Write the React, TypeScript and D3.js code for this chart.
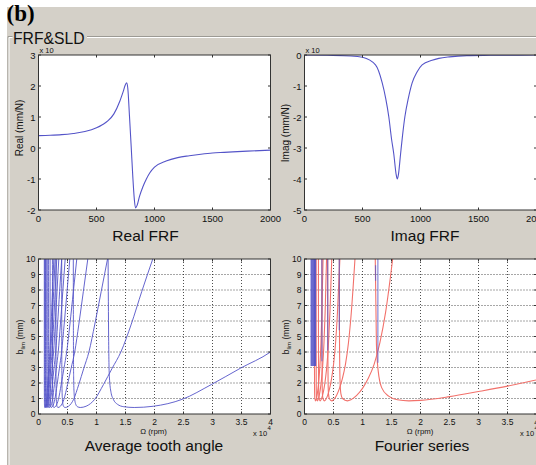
import React from 'react';
import * as d3 from 'd3';

const W = 536;
const H = 465;
const PANEL = '#d4d0c8';
const BLUE = '#5454c8';
const RED = '#f2716b';
const FONT = '"Liberation Sans", Arial, sans-serif';

// Real FRF (Hz, mm/N x 10^-?)
const realFreq = [0, 100, 200, 300, 400, 500, 550, 600, 650, 700, 730, 750, 760, 770, 784, 799, 813, 826, 836, 850, 870, 900, 930, 960, 1000, 1100, 1200, 1300, 1400, 1500, 1600, 1800, 2000];
const realVal = [0.4, 0.41, 0.43, 0.47, 0.53, 0.65, 0.75, 0.88, 1.1, 1.5, 1.82, 2.05, 2.1, 1.92, 1.05, 0.05, -0.93, -1.65, -1.93, -1.85, -1.57, -1.25, -1.0, -0.8, -0.62, -0.42, -0.31, -0.25, -0.2, -0.16, -0.14, -0.1, -0.07];

// Imag FRF
const imagFreq = [0, 200, 400, 500, 612, 670, 700, 727, 750, 770, 790, 800, 810, 828, 845, 865, 895, 928, 970, 1014, 1100, 1158, 1250, 1400, 1600, 2000];
const imagVal = [0, -0.01, -0.03, -0.075, -0.32, -0.9, -1.4, -2.0, -2.7, -3.2, -3.85, -4.0, -3.85, -3.2, -2.6, -2.0, -1.4, -0.9, -0.55, -0.32, -0.17, -0.11, -0.06, -0.02, -0.01, 0];

const frfTicksX = [0, 500, 1000, 1500, 2000];
const realTicksY = [-2, -1, 0, 1, 2, 3];
const imagTicksY = [-5, -4, -3, -2, -1, 0];

const sldTicksX = [0, 0.5, 1, 1.5, 2, 2.5, 3, 3.5, 4];
const sldTicksY = [0, 1, 2, 3, 4, 5, 6, 7, 8, 9, 10];

// Average tooth angle: spindle speed (x10^4 rpm) of each lobe at these b_lim levels (mm)
const avgB = [10, 5, 2.4, 1.4, 0.95, 0.63, 0.47, 0.42, 0.5, 0.95, 1.9, 2.95, 4.0, 5.8, 7.9, 10];
const avgLobes = [
  [1.2, 1.209, 1.222, 1.25, 1.29, 1.36, 1.47, 1.65, 1.98, 2.48, 2.98, 3.48, 4.0, 4.55, 5.15, 5.8],
  [0.6, 0.602, 0.606, 0.613, 0.624, 0.642, 0.672, 0.72, 0.82, 0.97, 1.12, 1.27, 1.42, 1.6, 1.78, 1.97],
  [0.4, 0.401, 0.403, 0.407, 0.412, 0.421, 0.436, 0.46, 0.518, 0.606, 0.694, 0.781, 0.869, 0.971, 1.081, 1.19],
  [0.3, 0.3007, 0.3018, 0.304, 0.307, 0.313, 0.322, 0.336, 0.377, 0.439, 0.5, 0.562, 0.624, 0.696, 0.773, 0.85],
  [0.24, 0.2405, 0.2413, 0.243, 0.245, 0.249, 0.255, 0.265, 0.297, 0.344, 0.391, 0.439, 0.486, 0.542, 0.601, 0.66],
  [0.2, 0.2004, 0.201, 0.202, 0.2036, 0.206, 0.211, 0.218, 0.244, 0.282, 0.321, 0.36, 0.398, 0.443, 0.492, 0.54],
  [0.171, 0.1713, 0.1718, 0.1728, 0.1742, 0.1766, 0.1806, 0.187, 0.209, 0.242, 0.274, 0.307, 0.34, 0.378, 0.419, 0.46],
  [0.15, 0.1503, 0.1507, 0.1514, 0.1526, 0.1546, 0.1578, 0.163, 0.182, 0.21, 0.239, 0.267, 0.296, 0.329, 0.364, 0.4],
  [0.133, 0.1332, 0.1336, 0.1343, 0.1354, 0.1372, 0.1402, 0.145, 0.161, 0.186, 0.211, 0.235, 0.26, 0.289, 0.319, 0.35],
  [0.12, 0.1202, 0.1205, 0.1211, 0.122, 0.1235, 0.126, 0.13, 0.145, 0.167, 0.189, 0.211, 0.234, 0.26, 0.287, 0.315],
  [0.109, 0.1092, 0.1095, 0.11, 0.1108, 0.1122, 0.1144, 0.118, 0.131, 0.152, 0.172, 0.192, 0.212, 0.236, 0.261, 0.286],
  [0.1, 0.1002, 0.1004, 0.1009, 0.1016, 0.1028, 0.1048, 0.108, 0.12, 0.139, 0.158, 0.177, 0.196, 0.218, 0.241, 0.264],
];

// Fourier series: lobe 0 on its own, others at shared b_lim levels
const four0X = [1.22, 1.24, 1.27, 1.33, 1.45, 1.6, 1.8, 2.0, 2.5, 3.0, 3.5, 4.0, 4.3];
const four0B = [10, 4.5, 2.8, 1.7, 1.15, 0.92, 0.85, 0.88, 1.12, 1.45, 1.8, 2.2, 2.45];
const fourB = [10, 4.5, 2.0, 1.3, 1.0, 0.85, 0.92, 1.2, 1.65, 2.3, 3.2, 4.6, 6.6, 10];
const fourLobes = [
  [0.6, 0.604, 0.614, 0.628, 0.656, 0.74, 0.8, 0.9, 1.0, 1.1, 1.2, 1.3, 1.4, 1.52],
  [0.4, 0.402, 0.407, 0.414, 0.428, 0.47, 0.501, 0.552, 0.603, 0.654, 0.706, 0.758, 0.808, 0.87],
  [0.3, 0.3014, 0.3045, 0.309, 0.318, 0.345, 0.365, 0.399, 0.433, 0.467, 0.501, 0.536, 0.569, 0.61],
  [0.24, 0.241, 0.243, 0.246, 0.252, 0.27, 0.285, 0.311, 0.337, 0.362, 0.388, 0.414, 0.439, 0.47],
  [0.2, 0.2007, 0.2022, 0.2044, 0.2088, 0.222, 0.234, 0.254, 0.275, 0.295, 0.315, 0.336, 0.356, 0.38],
  [0.171, 0.1716, 0.173, 0.175, 0.179, 0.19, 0.2, 0.217, 0.233, 0.25, 0.267, 0.284, 0.3, 0.32],
];
// blue vertical solutions in the Fourier plot
const blueX = [0.115, 0.13, 0.145, 0.16, 0.175, 0.19, 0.3, 0.4, 0.6, 1.225, 1.265];
const blueLow = [3.1, 3.1, 3.1, 3.1, 3.1, 3.1, 3.4, 4.1, 5.4, 8.6, 3.3];
const blueHigh = [10, 10, 10, 10, 10, 10, 10, 10, 10, 9.6, 10];

type Sc = d3.ScaleLinear<number, number>;

function Axes(props: {
  id: string; x0: number; y0: number; w: number; h: number;
  xDomain: [number, number]; yDomain: [number, number];
  xTicks: number[]; yTicks: number[]; fs: number; labelGap: number;
  grid?: boolean; children: (x: Sc, y: Sc) => React.ReactNode;
}) {
  const { id, x0, y0, w, h, xTicks, yTicks, fs, labelGap, grid } = props;
  const x = d3.scaleLinear().domain(props.xDomain).range([x0, x0 + w]);
  const y = d3.scaleLinear().domain(props.yDomain).range([y0 + h, y0]);
  const tl = 2.5;
  return (
    <g>
      <defs>
        <clipPath id={id}><rect x={x0} y={y0} width={w} height={h} /></clipPath>
      </defs>
      <rect x={x0} y={y0} width={w} height={h} fill="#fff" />
      {grid && (
        <g stroke="#222" strokeWidth={0.8} strokeDasharray="1,2">
          {xTicks.slice(1, -1).map(t => <line key={'gx' + t} x1={x(t)} x2={x(t)} y1={y0} y2={y0 + h} />)}
          {yTicks.slice(1, -1).map(t => <line key={'gy' + t} x1={x0} x2={x0 + w} y1={y(t)} y2={y(t)} />)}
        </g>
      )}
      <g clipPath={`url(#${id})`}>{props.children(x, y)}</g>
      <rect x={x0} y={y0} width={w} height={h} fill="none" stroke="#333" strokeWidth={1} />
      <g stroke="#333" strokeWidth={1}>
        {xTicks.map(t => (
          <g key={'tx' + t}>
            <line x1={x(t)} x2={x(t)} y1={y0 + h} y2={y0 + h - tl} />
            <line x1={x(t)} x2={x(t)} y1={y0} y2={y0 + tl} />
          </g>
        ))}
        {yTicks.map(t => (
          <g key={'ty' + t}>
            <line x1={x0} x2={x0 + tl} y1={y(t)} y2={y(t)} />
            <line x1={x0 + w} x2={x0 + w - tl} y1={y(t)} y2={y(t)} />
          </g>
        ))}
      </g>
      <g fontSize={fs} fill="#111">
        {xTicks.map(t => (
          <text key={'lx' + t} x={x(t)} y={y0 + h + labelGap} textAnchor="middle">{String(t)}</text>
        ))}
        {yTicks.map(t => (
          <text key={'ly' + t} x={x0 - 3} y={y(t)} textAnchor="end" dominantBaseline="central">{String(t)}</text>
        ))}
      </g>
    </g>
  );
}

const frfLine = (x: Sc, y: Sc, xs: number[], vs: number[]) =>
  d3.line<number>().x(d => x(xs[d])).y(d => y(vs[d])).curve(d3.curveMonotoneX)(d3.range(xs.length)) || '';

export default function App() {
  return (
    <svg width={W} height={H} style={{ position: 'absolute', left: 0, top: 0, fontFamily: FONT }}>
      <rect width={W} height={H} fill="#fff" />
      <rect x={7} y={7} width={W - 7} height={H - 7} fill={PANEL} />
      <text x={6.5} y={21} fontFamily='"Liberation Serif", "Times New Roman", serif' fontWeight="bold" fontSize={23}>(b)</text>
      <path d="M8,36.5H12.5M87,36.5H536M8,36.5V465" stroke="#9c9a94" fill="none" />
      <path d="M9,37.5H12.5M87,37.5H536M9,37.5V465" stroke="#fff" fill="none" />
      <text x={13} y={43.5} fontSize={15.7} fill="#111">{'FRF&SLD'}</text>

      {/* Real FRF */}
      <Axes id="c1" x0={38.5} y0={55} w={232} h={155} xDomain={[0, 2000]} yDomain={[-2, 3]}
        xTicks={frfTicksX} yTicks={realTicksY} fs={9.5} labelGap={12}>
        {(x, y) => <path d={frfLine(x, y, realFreq, realVal)} fill="none" stroke={BLUE} strokeWidth={1.1} />}
      </Axes>
      <text x={39.5} y={52.5} fontSize={7.5} fill="#111">x 10</text>
      <text transform="translate(23,128) rotate(-90)" textAnchor="middle" fontSize={10} fill="#111">Real (mm/N)</text>
      <text x={145.5} y={241} textAnchor="middle" fontSize={15.5} fill="#111">Real FRF</text>

      {/* Imag FRF */}
      <Axes id="c2" x0={304.5} y0={55} w={232} h={155} xDomain={[0, 2000]} yDomain={[-5, 0]}
        xTicks={frfTicksX} yTicks={imagTicksY} fs={9.5} labelGap={12}>
        {(x, y) => <path d={frfLine(x, y, imagFreq, imagVal)} fill="none" stroke={BLUE} strokeWidth={1.1} />}
      </Axes>
      <text x={305.5} y={52.5} fontSize={7.5} fill="#111">x 10</text>
      <text transform="translate(289,133) rotate(-90)" textAnchor="middle" fontSize={10} fill="#111">Imag (mm/N)</text>
      <text x={425} y={241} textAnchor="middle" fontSize={15.5} fill="#111">Imag FRF</text>

      {/* Average tooth angle */}
      <Axes id="c3" x0={38.5} y0={259} w={232} h={155} xDomain={[0, 4]} yDomain={[0, 10]}
        xTicks={sldTicksX} yTicks={sldTicksY} fs={8.5} labelGap={10.5} grid>
        {(x, y) => avgLobes.map((xs, i) => (
          <path key={i} d={frfLine(x, y, xs, avgB)} fill="none" stroke={BLUE} strokeWidth={0.9} />
        ))}
      </Axes>
      <text x={153.5} y={434} textAnchor="middle" fontSize={7.8} fill="#111">Ω (rpm)</text>
      <text x={253} y={435.5} fontSize={7.5} fill="#111">x 10</text>
      <text x={267.5} y={430} fontSize={6} fill="#111">4</text>
      <text transform="translate(23,337) rotate(-90)" textAnchor="middle" fontSize={8.5} fill="#111">
        b<tspan fontSize={6} dy={2}>lim</tspan><tspan dy={-2}> (mm)</tspan>
      </text>
      <text x={154} y={450.5} textAnchor="middle" fontSize={15.5} fill="#111">Average tooth angle</text>

      {/* Fourier series */}
      <Axes id="c4" x0={304.5} y0={259} w={232} h={155} xDomain={[0, 4]} yDomain={[0, 10]}
        xTicks={sldTicksX} yTicks={sldTicksY} fs={8.5} labelGap={10.5} grid>
        {(x, y) => (
          <g>
            <path d={frfLine(x, y, four0X, four0B)} fill="none" stroke={RED} strokeWidth={1.1} />
            {fourLobes.map((xs, i) => (
              <path key={i} d={frfLine(x, y, xs, fourB)} fill="none" stroke={RED} strokeWidth={1.1} />
            ))}
            {blueX.map((v, i) => (
              <line key={'b' + i} x1={x(v)} x2={x(v)} y1={y(blueLow[i])} y2={y(blueHigh[i])}
                stroke={BLUE} strokeWidth={1.2} strokeOpacity={i < 6 ? 0.95 : 0.7} />
            ))}
          </g>
        )}
      </Axes>
      <text x={420} y={434} textAnchor="middle" fontSize={7.8} fill="#111">Ω (rpm)</text>
      <text x={520} y={435.5} fontSize={7.5} fill="#111">x 10</text>
      <text x={534.5} y={430} fontSize={6} fill="#111">4</text>
      <text transform="translate(289,337) rotate(-90)" textAnchor="middle" fontSize={8.5} fill="#111">
        b<tspan fontSize={6} dy={2}>lim</tspan><tspan dy={-2}> (mm)</tspan>
      </text>
      <text x={422} y={451} textAnchor="middle" fontSize={15.5} fill="#111">Fourier series</text>
    </svg>
  );
}
